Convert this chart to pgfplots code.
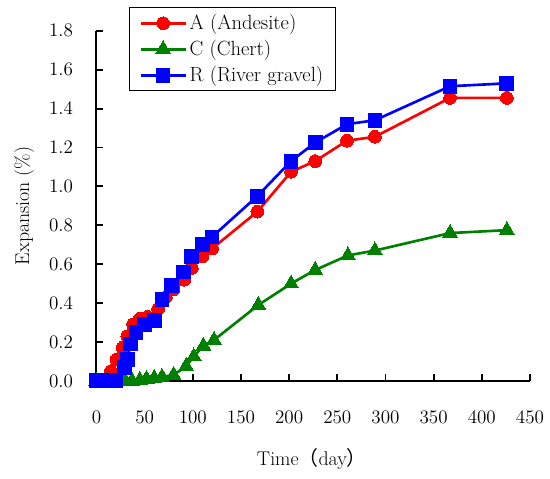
\documentclass[border=0pt]{standalone}
\usepackage{pgfplots}
\pgfplotsset{compat=1.18}
\usepackage{fontspec}
\newfontfamily\cjk{Noto Sans CJK SC}
\definecolor{cA}{RGB}{255,0,0}
\definecolor{cC}{RGB}{0,128,0}
\definecolor{cR}{RGB}{0,0,255}
\begin{document}
\fontsize{13.5}{16}\selectfont
\begin{tikzpicture}
\begin{axis}[
  name=ax,
  scale only axis, width=327pt, height=264pt,
  xmin=0, xmax=450, ymin=0, ymax=1.8,
  axis x line*=bottom, axis y line*=left,
  axis line style={line width=1.5pt, black},
  xtick={0,50,...,450}, ytick={0,0.2,0.4,0.6,0.8,1.0,1.2,1.4,1.6,1.8},
  tick align=inside, major tick length=5pt,
  tick style={line width=1.5pt, black},
  every tick label/.append style={font=\fontsize{14}{16}\selectfont},
  xticklabel style={yshift=-18pt},
  yticklabel style={xshift=-13pt, /pgf/number format/fixed, /pgf/number format/fixed zerofill, /pgf/number format/precision=1},
  xlabel={Time{\cjk （}day{\cjk ）}},
  ylabel={Expansion (\%)},
  label style={font=\fontsize{15}{18}\selectfont},
  xlabel style={at={(axis description cs:0.497,-0.224)}, anchor=center},
  ylabel style={at={(axis description cs:-0.167,0.5)}, anchor=center},
  clip=false,
  legend style={at={(rel axis cs:0.076,1.068)}, anchor=north west, draw=black, line width=0.8pt,
    font=\fontsize{15.5}{20}\selectfont, inner xsep=7pt, inner ysep=3pt, row sep=2pt},
  legend cell align=left,
  legend image code/.code={\draw[mark repeat=2,mark phase=2,#1] plot coordinates {(0pt,0pt) (17pt,0pt) (34pt,0pt)};},
]
\addplot[color=cA, line width=2pt, mark=*, mark size=4.8pt, mark options={solid, fill=cA, draw=cA, line width=0pt}] coordinates {
(0,0) (8,0.0) (15,0.05) (21,0.11) (27,0.17) (32,0.23) (38,0.29) (45,0.32) (53,0.33) (64,0.37) (72,0.43) (80,0.47) (91,0.52) (99,0.58) (110,0.64) (120,0.68) (167,0.87) (202,1.075) (227,1.13) (260,1.235) (289,1.255) (367,1.455) (426,1.455)};
\addlegendentry{A (Andesite)}
\addplot[color=cC, line width=2pt, mark=triangle*, mark size=6.5pt, mark options={solid, fill=cC, draw=cC, line width=0pt}] coordinates {
(0,0) (10,0) (20,0) (30,0) (37,0.0) (45,0.005) (52,0.01) (60,0.015) (68,0.02) (80,0.03) (93,0.075) (101,0.125) (111,0.18) (122,0.21) (168,0.39) (202,0.50) (227,0.57) (261,0.645) (289,0.67) (367,0.76) (426,0.775)};
\addlegendentry{C (Chert)}
\addplot[color=cR, line width=2pt, mark=square*, mark size=5.2pt, mark options={solid, fill=cR, draw=cR, line width=0pt}] coordinates {
(0,0) (10,0) (20,0) (29,0.07) (32,0.11) (35,0.19) (41,0.25) (50,0.29) (60,0.31) (68,0.42) (78,0.49) (90,0.56) (99,0.64) (110,0.70) (120,0.74) (167,0.95) (202,1.13) (227,1.225) (260,1.32) (289,1.34) (367,1.515) (426,1.53)};
\addlegendentry{R (River gravel)}
\end{axis}
\path ([xshift=-72.75pt,yshift=-73.5pt]ax.south west) rectangle ([xshift=12.75pt,yshift=23.25pt]ax.north east);
\end{tikzpicture}
\end{document}
